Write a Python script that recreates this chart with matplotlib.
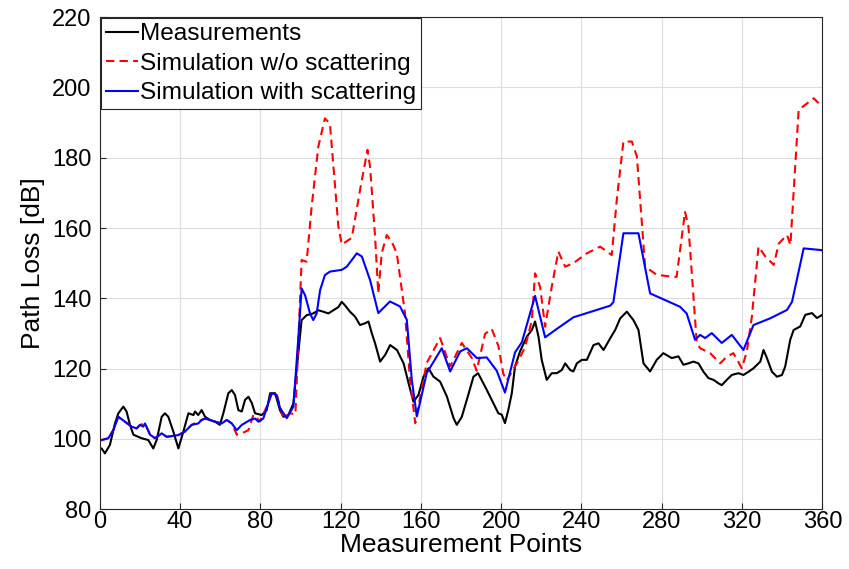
import matplotlib.pyplot as plt

# Path loss along the measurement route: measured vs. ray-tracing simulations
meas_x = [0, 0.98, 2.6, 5.1, 7.6, 9.3, 11.8, 13.4, 15.1, 16.8, 20.9, 24.2, 26.7, 28.4,
          30.9, 32.5, 34.2, 36.7, 39.2, 41.7, 44.2, 46.7, 47.5, 49.1, 50.8, 52.5,
          55.0, 57.5, 59.9, 61.6, 64.1, 65.8, 67.4, 69.1, 70.8, 72.4, 74.1, 75.8,
          77.4, 80.7, 83.2, 84.9, 87.4, 89.8, 91.5, 94.0, 96.5, 98.1, 100.6, 103.1,
          106.4, 108.9, 111.4, 113.9, 116.4, 118.9, 120.6, 122.2, 124.7, 127.2,
          129.7, 132.2, 133.9, 135.6, 137.2, 139.7, 142.2, 144.7, 148.1, 151.4,
          153.9, 156.3, 158.8, 161.3, 163.8, 166.3, 169.6, 173.0, 176.3, 177.9,
          180.4, 183.8, 186.2, 188.5, 192.8, 196.1, 198.6, 200.3, 201.9, 203.6,
          205.3, 206.9, 209.4, 212.8, 215.3, 216.9, 218.6, 220.2, 222.7, 225.2,
          227.7, 230.2, 231.9, 234.4, 236.0, 237.7, 240.2, 242.7, 246.0, 248.5,
          251.0, 254.3, 256.8, 259.3, 262.6, 265.9, 268.4, 270.9, 274.2, 277.5,
          280.8, 285.0, 288.3, 290.8, 293.3, 295.8, 298.3, 300.8, 303.3, 305.8,
          308.3, 309.9, 312.4, 314.9, 318.2, 320.7, 323.2, 325.7, 329.1, 330.7,
          332.4, 334.9, 337.4, 339.9, 341.5, 344.0, 345.7, 349.0, 351.5, 354.8,
          357.3, 360]
meas_y = [97.0, 97.3, 95.9, 98.3, 104.4, 107.3, 109.2, 107.8, 104.0, 101.2, 100.2,
          99.7, 97.3, 99.7, 106.3, 107.3, 106.3, 102.1, 97.3, 102.1, 107.3, 106.8,
          107.8, 106.8, 108.2, 106.3, 105.4, 104.9, 104.0, 107.3, 113.0, 113.9, 112.5,
          108.2, 107.8, 111.1, 112.0, 110.2, 107.3, 106.8, 108.2, 113.0, 113.0, 108.2,
          106.3, 106.8, 110.1, 119.6, 133.8, 135.2, 135.7, 136.6, 136.2, 135.7, 136.6,
          137.5, 139.0, 138.0, 136.2, 134.8, 132.4, 132.9, 133.4, 130.0, 127.2, 122.0,
          123.9, 126.7, 125.3, 121.5, 115.8, 110.6, 112.5, 117.7, 120.1, 117.7, 116.3,
          112.0, 105.9, 104.0, 106.3, 112.9, 117.7, 118.7, 114.0, 110.2, 107.3, 106.9,
          104.5, 108.3, 113.0, 120.6, 124.9, 129.1, 131.0, 133.4, 129.1, 122.5, 116.8,
          118.7, 118.7, 119.6, 121.5, 119.6, 119.2, 121.5, 122.5, 122.5, 126.7, 127.2,
          125.3, 128.6, 131.0, 134.3, 136.2, 133.8, 131.0, 121.5, 119.2, 122.5, 124.4,
          123.0, 123.5, 121.1, 121.5, 122.0, 121.5, 119.1, 117.3, 116.8, 115.8, 115.3,
          116.8, 118.2, 118.7, 118.2, 119.1, 120.1, 122.0, 125.3, 123.0, 119.1, 117.7,
          118.2, 120.6, 128.2, 131.0, 132.0, 135.3, 135.8, 134.4, 135.3]

nosc_x = [0, 0.98, 4.3, 6.8, 9.3, 12.6, 15.9, 18.4, 20.1, 22.6, 25.1, 27.6, 30.9,
          33.4, 39.2, 42.5, 45.8, 50.8, 52.5, 57.5, 60.8, 63.3, 65.8, 68.3, 70.8,
          74.1, 76.6, 79.9, 84.0, 85.7, 88.2, 91.5, 94.8, 97.5, 100.6, 103.1, 105.6,
          108.9, 112.2, 114.7, 118.9, 120.6, 125.6, 129.7, 133.4, 134.7, 137.2,
          138.8, 140.5, 143.0, 145.5, 148.0, 152.1, 154.6, 157.2, 162.9, 169.6,
          174.6, 180.4, 185.4, 187.8, 192.0, 195.3, 198.6, 201.1, 202.8, 208.6,
          211.9, 215.3, 216.9, 219.4, 221.9, 225.2, 228.5, 231.9, 236.0, 242.7,
          249.3, 255.1, 257.6, 260.9, 265.1, 267.6, 270.1, 271.7, 277.5, 284.2,
          287.4, 291.6, 293.3, 297.4, 299.1, 304.1, 309.1, 312.4, 315.7, 319.9,
          322.4, 324.9, 328.2, 331.6, 335.8, 338.3, 342.4, 344.1, 348.2, 355.7,
          359.0, 360]
nosc_y = [99.5, 99.7, 100.2, 102.5, 106.3, 104.9, 103.5, 103.0, 104.0, 104.4, 101.2,
          100.2, 101.6, 100.6, 101.1, 102.1, 104.0, 105.4, 105.8, 104.9, 104.4, 105.4,
          104.4, 101.2, 101.6, 102.5, 106.9, 105.0, 110.2, 113.0, 112.5, 105.9, 107.3,
          107.0, 150.9, 150.4, 166.1, 183.1, 191.2, 189.7, 160.5, 155.3, 157.2, 170.8,
          182.2, 177.4, 157.5, 141.4, 152.8, 158.0, 156.1, 152.8, 135.8, 116.8, 104.5,
          121.6, 128.7, 120.6, 127.3, 123.0, 119.4, 129.9, 131.3, 126.5, 118.5, 116.6,
          122.3, 126.1, 133.7, 147.1, 143.3, 131.9, 143.3, 153.3, 149.0, 150.0, 152.8,
          154.7, 152.3, 168.0, 184.6, 184.6, 180.4, 161.4, 149.0, 146.7, 146.2, 146.1,
          164.6, 160.4, 127.7, 125.8, 124.4, 121.5, 123.4, 124.4, 120.1, 124.9, 134.8,
          154.7, 151.9, 149.5, 155.6, 158.0, 155.2, 193.6, 196.9, 195.0, 194.5]

sc_x = [0, 0.98, 4.3, 6.8, 9.3, 12.6, 15.9, 18.4, 20.1, 21.7, 22.6, 25.1, 27.6, 30.9,
        33.4, 39.2, 42.5, 45.8, 49.1, 50.8, 52.5, 57.5, 60.8, 63.3, 65.8, 68.3,
        70.8, 74.9, 77.4, 79.1, 81.5, 84.0, 85.7, 88.2, 89.9, 93.2, 96.5, 99.0,
        100.6, 102.3, 104.8, 106.4, 108.1, 109.8, 112.2, 114.7, 120.6, 123.1,
        128.1, 130.6, 134.7, 138.8, 144.6, 149.6, 153.0, 155.5, 158.0, 162.9,
        170.4, 174.6, 179.6, 182.9, 187.9, 192.8, 197.8, 201.9, 206.9, 210.3,
        216.9, 221.9, 227.7, 236.0, 254.3, 255.9, 260.9, 268.4, 274.2, 289.1,
        292.4, 296.6, 299.1, 301.6, 304.9, 309.9, 314.9, 320.7, 325.7, 334.0,
        342.4, 344.9, 350.7, 359.9, 360]
sc_y = [99.5, 99.7, 100.2, 102.5, 106.3, 104.9, 103.5, 103.0, 104.0, 103.5, 104.4,
        101.2, 100.2, 101.6, 100.6, 101.1, 102.1, 104.0, 104.4, 105.4, 105.8, 104.9,
        104.4, 105.4, 104.4, 102.5, 104.0, 105.4, 105.8, 104.9, 105.8, 110.2, 113.0,
        112.5, 108.7, 105.9, 109.2, 129.1, 142.8, 140.9, 135.7, 133.8, 135.7, 142.3,
        146.6, 147.6, 148.1, 149.0, 152.8, 151.9, 145.2, 135.8, 139.1, 137.7, 133.9,
        116.8, 106.4, 118.7, 125.8, 119.2, 124.9, 125.8, 123.0, 123.2, 119.4, 113.2,
        124.6, 127.5, 140.7, 128.9, 131.3, 134.6, 137.9, 138.9, 158.5, 158.5, 141.4,
        137.6, 135.7, 128.2, 129.6, 128.7, 130.1, 127.3, 129.6, 125.3, 132.4, 134.3,
        136.7, 139.0, 154.2, 153.7, 153.6]

plt.rcParams['font.family'] = ['Liberation Sans', 'DejaVu Sans']

fig = plt.figure(figsize=(8.49, 5.69), dpi=100)
ax = fig.add_axes([0.1174, 0.105, 0.8512, 0.865])

ax.plot(meas_x, meas_y, color='black', linewidth=1.5, label='Measurements')
ax.plot(nosc_x, nosc_y, color='red', linewidth=1.5, linestyle=(0, (4, 2.5)),
        label='Simulation w/o scattering')
ax.plot(sc_x, sc_y, color='blue', linewidth=1.5, label='Simulation with scattering')

ax.set_xlim(0, 360)
ax.set_ylim(80, 220)
ax.set_xticks(range(0, 361, 40))
ax.set_yticks(range(80, 221, 20))
ax.grid(True, color='#dcdcdc', linewidth=0.8)
ax.set_axisbelow(True)
ax.tick_params(direction='in', labelsize=17, length=4, color='#262626',
               top=False, right=False)
ax.tick_params(axis='x', pad=1.5)
ax.tick_params(axis='y', pad=6)
for s in ax.spines.values():
    s.set_color('#262626')
    s.set_linewidth(0.8)

ax.set_xlabel('Measurement Points', fontsize=19, labelpad=0)
ax.set_ylabel('Path Loss [dB]', fontsize=19, labelpad=5)

leg = ax.legend(loc='upper left', fontsize=17.6, handlelength=1.3, handletextpad=0.08,
                borderpad=0.2, labelspacing=0.3, borderaxespad=0.05,
                fancybox=False, framealpha=1)
leg.get_frame().set_edgecolor('#262626')
leg.get_frame().set_linewidth(0.8)

fig.savefig('out.png', dpi=100)
